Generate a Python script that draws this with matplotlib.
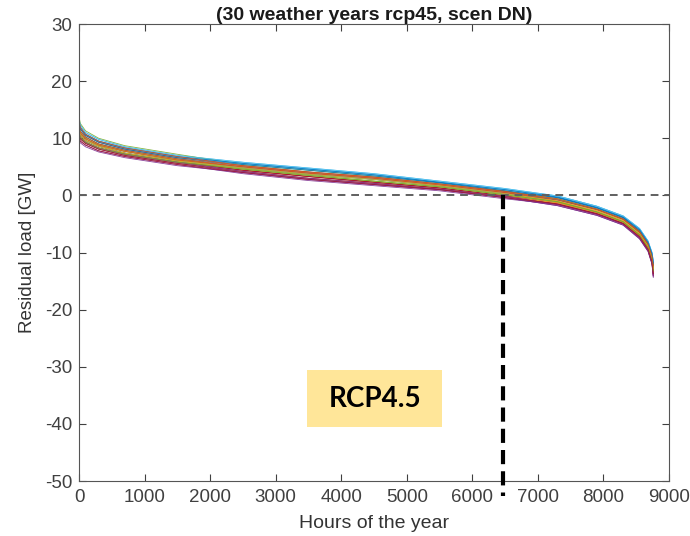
import matplotlib
matplotlib.use("Agg")
import matplotlib.pyplot as plt
from matplotlib.patches import Rectangle

# ---- data ----
hours = [0, 20, 100, 300, 700, 1500, 2500, 3500, 4500, 5500, 6500,
         7300, 7900, 8300, 8550, 8680, 8740, 8760]

curves = [
    [11.7, 10.9, 9.9, 8.8, 7.7, 6.2, 5.0, 3.9, 3.0, 1.8, 0.5, -0.6, -2.4, -4.1, -6.3, -8.5, -10.6, -12.3],
    [10.9, 10.2, 9.3, 8.3, 7.2, 5.8, 4.4, 3.3, 2.3, 1.3, -0.1, -1.5, -3.2, -4.9, -7.2, -9.4, -11.6, -13.7],
    [12.1, 11.2, 10.2, 9.0, 7.9, 6.4, 4.8, 3.7, 2.8, 1.7, 0.3, -1.1, -2.9, -4.6, -6.9, -9.1, -11.2, -13.2],
    [10.0, 9.5, 8.8, 7.8, 6.8, 5.4, 3.8, 2.6, 1.7, 0.8, -0.6, -1.6, -3.3, -5.0, -7.4, -9.6, -11.8, -14.0],
    [11.7, 10.9, 9.9, 8.8, 7.7, 6.2, 4.8, 3.7, 2.8, 1.7, 0.3, -1.1, -2.9, -4.6, -6.9, -9.1, -11.2, -13.2],
    [13.4, 12.3, 11.0, 9.8, 8.5, 7.0, 5.8, 4.8, 3.8, 2.5, 1.2, -0.1, -1.9, -3.6, -5.8, -8.0, -10.0, -11.5],
    [11.3, 10.6, 9.6, 8.6, 7.4, 6.0, 4.4, 3.3, 2.3, 1.3, -0.1, -1.5, -3.2, -4.9, -7.2, -9.4, -11.6, -13.7],
    [12.1, 11.2, 10.2, 9.0, 7.9, 6.4, 5.2, 4.1, 3.2, 2.0, 0.7, -0.4, -2.2, -3.9, -6.2, -8.4, -10.4, -12.1],
    [12.1, 11.2, 10.2, 9.0, 7.9, 6.4, 5.0, 3.9, 3.0, 1.8, 0.5, -0.8, -2.5, -4.2, -6.5, -8.7, -10.8, -12.6],
    [11.7, 10.9, 9.9, 8.8, 7.7, 6.2, 4.6, 3.5, 2.5, 1.5, 0.1, -1.3, -3.0, -4.7, -7.1, -9.3, -11.4, -13.5],
    [9.6, 9.2, 8.5, 7.6, 6.6, 5.2, 4.0, 2.8, 1.9, 1.0, -0.4, -1.8, -3.5, -5.2, -7.6, -9.8, -12.0, -14.3],
    [13.8, 12.6, 11.3, 10.0, 8.7, 7.2, 5.4, 4.4, 3.4, 2.2, 0.8, -0.6, -2.4, -4.1, -6.3, -8.5, -10.6, -12.3],
    [12.5, 11.6, 10.5, 9.3, 8.1, 6.6, 5.6, 4.6, 3.6, 2.3, 1.0, -0.3, -2.1, -3.8, -6.0, -8.2, -10.2, -11.8],
    [10.9, 10.2, 9.3, 8.3, 7.2, 5.8, 4.4, 3.3, 2.3, 1.3, -0.1, -1.3, -3.0, -4.7, -7.1, -9.3, -11.4, -13.5],
    [11.3, 10.6, 9.6, 8.6, 7.4, 6.0, 4.8, 3.7, 2.8, 1.7, 0.3, -0.8, -2.5, -4.2, -6.5, -8.7, -10.8, -12.6],
    [12.5, 11.6, 10.5, 9.3, 8.1, 6.6, 5.2, 4.1, 3.2, 2.0, 0.7, -0.8, -2.5, -4.2, -6.5, -8.7, -10.8, -12.6],
    [10.4, 9.9, 9.1, 8.1, 7.0, 5.6, 4.2, 3.0, 2.1, 1.1, -0.2, -1.3, -3.0, -4.7, -7.1, -9.3, -11.4, -13.5],
    [10.4, 9.9, 9.1, 8.1, 7.0, 5.6, 4.0, 2.8, 1.9, 1.0, -0.4, -1.8, -3.5, -5.2, -7.6, -9.8, -12.0, -14.3],
    [11.3, 10.6, 9.6, 8.6, 7.4, 6.0, 4.6, 3.5, 2.5, 1.5, 0.1, -1.1, -2.9, -4.6, -6.9, -9.1, -11.2, -13.2],
    [13.0, 11.9, 10.7, 9.5, 8.3, 6.8, 5.6, 4.6, 3.6, 2.3, 1.0, -0.1, -1.9, -3.6, -5.8, -8.0, -10.0, -11.5],
    [10.4, 9.9, 9.1, 8.1, 7.0, 5.6, 4.2, 3.0, 2.1, 1.1, -0.2, -1.6, -3.3, -5.0, -7.4, -9.6, -11.8, -14.0],
    [12.5, 11.6, 10.5, 9.3, 8.1, 6.6, 5.4, 4.4, 3.4, 2.2, 0.8, -0.4, -2.2, -3.9, -6.2, -8.4, -10.4, -12.1],
    [11.7, 10.9, 9.9, 8.8, 7.7, 6.2, 5.0, 3.9, 3.0, 1.8, 0.5, -1.0, -2.7, -4.4, -6.7, -8.9, -11.0, -12.9],
    [11.3, 10.6, 9.6, 8.6, 7.4, 6.0, 4.8, 3.7, 2.8, 1.7, 0.3, -1.0, -2.7, -4.4, -6.7, -8.9, -11.0, -12.9],
    [10.9, 10.2, 9.3, 8.3, 7.2, 5.8, 4.2, 3.0, 2.1, 1.1, -0.2, -1.6, -3.3, -5.0, -7.4, -9.6, -11.8, -14.0],
    [10.9, 10.2, 9.3, 8.3, 7.2, 5.8, 4.6, 3.5, 2.5, 1.5, 0.1, -1.1, -2.9, -4.6, -6.9, -9.1, -11.2, -13.2],
    [13.4, 12.3, 11.0, 9.8, 8.5, 7.0, 5.8, 4.8, 3.8, 2.5, 1.2, -0.1, -1.9, -3.6, -5.8, -8.0, -10.0, -11.5],
    [10.0, 9.5, 8.8, 7.8, 6.8, 5.4, 4.0, 2.8, 1.9, 1.0, -0.4, -1.5, -3.2, -4.9, -7.2, -9.4, -11.6, -13.7],
    [13.0, 11.9, 10.7, 9.5, 8.3, 6.8, 5.6, 4.6, 3.6, 2.3, 1.0, -0.3, -2.1, -3.8, -6.0, -8.2, -10.2, -11.8],
    [13.0, 11.9, 10.7, 9.5, 8.3, 6.8, 5.2, 4.1, 3.2, 2.0, 0.7, -0.6, -2.4, -4.1, -6.3, -8.5, -10.6, -12.3],
]

matlab_colors = ["#0072BD", "#D95319", "#EDB120", "#7E2F8E",
                 "#77AC30", "#4DBEEE", "#A2142F"]

xticks = [0, 1000, 2000, 3000, 4000, 5000, 6000, 7000, 8000, 9000]
yticks = [-50, -40, -30, -20, -10, 0, 10, 20, 30]

cut_hour = 6470
box_x = (3480, 5540)
box_y = (-40.6, -30.6)
box_label = "RCP4.5"
title = "(30 weather years rcp45, scen DN)"

# ---- figure ----
plt.rcParams['font.family'] = ['Liberation Sans', 'DejaVu Sans']
plt.rcParams['axes.unicode_minus'] = False
fig = plt.figure(figsize=(6.9, 5.36), dpi=100)
ax = fig.add_axes([0.1145, 0.1026, 0.8551, 0.8526])

for i, c in enumerate(curves):
    ax.plot(hours, c, color=matlab_colors[i % 7], lw=0.6, alpha=0.9)

ax.axhline(0, color="#606060", lw=1.4, ls=(0, (4, 3)), zorder=3)
ax.plot([cut_hour, cut_hour], [0, -52.6], color="black", lw=3,
        ls=(0, (3.4, 1.7)), clip_on=False, zorder=4)

ax.add_patch(Rectangle((box_x[0], box_y[0]), box_x[1] - box_x[0],
                       box_y[1] - box_y[0], facecolor="#FFE699",
                       edgecolor="none", zorder=2))
ax.text((box_x[0] + box_x[1]) / 2, (box_y[0] + box_y[1]) / 2, box_label,
        ha="center", va="center", fontsize=20, fontweight="bold",
        family=["Lato", "DejaVu Sans"], color="black", zorder=3)

ax.set_xlim(0, 9000)
ax.set_ylim(-50, 30)
ax.set_xticks(xticks)
ax.set_yticks(yticks)
ax.tick_params(direction="in", length=5, width=0.8, colors="#404040",
               labelsize=13.5, top=True, right=True)
ax.tick_params(axis="x", pad=6)
ax.tick_params(axis="y", pad=5)
for s in ax.spines.values():
    s.set_color("#555555")
    s.set_linewidth(0.8)

ax.set_xlabel("Hours of the year", fontsize=14, color="#333333", labelpad=6)
ax.set_ylabel("Residual load [GW]", fontsize=13.5, color="#333333", labelpad=6)
ax.set_title(title, fontsize=14, fontweight="bold", color="#1a1a1a", pad=3)

fig.savefig("out.png", dpi=100)
